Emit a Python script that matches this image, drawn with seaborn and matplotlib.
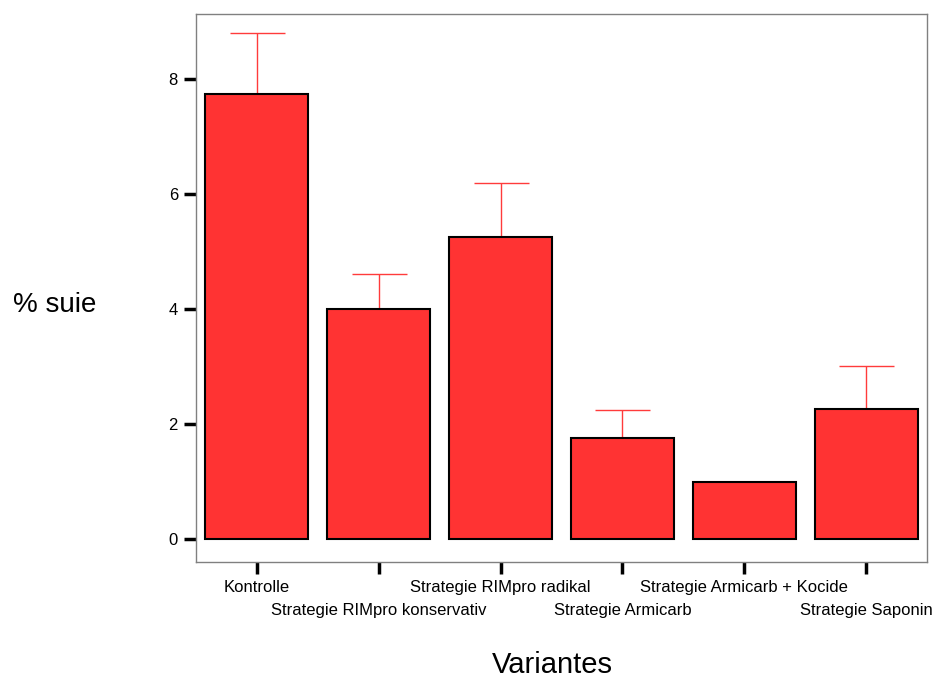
import matplotlib
matplotlib.use("Agg")
import matplotlib.pyplot as plt
import seaborn as sns
import pandas as pd

# Mean soot cover per spray strategy, with upper error bar ends
categories = ["Kontrolle", "Strategie RIMpro konservativ", "Strategie RIMpro radikal",
              "Strategie Armicarb", "Strategie Armicarb + Kocide", "Strategie Saponin"]
means = [7.74, 4.00, 5.25, 1.76, 0.99, 2.26]
upper = [8.80, 4.61, 6.19, 2.24, 0.99, 3.01]

df = pd.DataFrame({"Variantes": categories, "suie": means})

sns.set_style("white")
plt.rcParams["font.family"] = ["Liberation Sans", "DejaVu Sans"]
plt.rcParams["text.color"] = "black"
plt.rcParams["xtick.color"] = "black"
plt.rcParams["ytick.color"] = "black"

fig = plt.figure(figsize=(9.32, 6.79), dpi=100)
ax = fig.add_axes([0.2103, 0.1723, 0.7843, 0.8071])

sns.barplot(data=df, x="Variantes", y="suie", color="#ff3333", saturation=1,
            edgecolor="black", linewidth=1.5, width=0.845, errorbar=None, ax=ax, zorder=2)

xs = list(range(len(categories)))
err_up = [u - m for u, m in zip(upper, means)]
ax.errorbar(xs, means, yerr=[[0] * len(means), err_up], fmt="none",
            ecolor="#ff3b3b", elinewidth=1.0, capsize=19.8, capthick=1.0, zorder=1)

ax.set_xlim(-0.5, 5.5)
ax.set_ylim(-0.4, 9.13)
ax.set_yticks([0, 2, 4, 6, 8])
ax.set_xticks(xs)
ax.set_xticklabels(categories, fontsize=12, color="black")
ax.tick_params(axis="y", labelsize=12, labelcolor="black", direction="out", length=9,
               width=2.5, color="black", pad=4, left=True)
ax.tick_params(axis="x", labelcolor="black", direction="out", length=8.5, width=2.5,
               color="black", pad=4.5, bottom=True)
for t in ax.xaxis.get_major_ticks()[1::2]:
    t.set_pad(21)

for s in ax.spines.values():
    s.set_color("#808080")
    s.set_linewidth(1.0)

ax.set_xlabel("")
ax.set_ylabel("")
fig.text(552 / 932, 1 - 665 / 679, "Variantes", fontsize=21, ha="center", va="center",
         color="black")
fig.text(55 / 932, 1 - 305 / 679, "% suie", fontsize=20, ha="center", va="center",
         color="black")

fig.savefig("out.png", dpi=100)
